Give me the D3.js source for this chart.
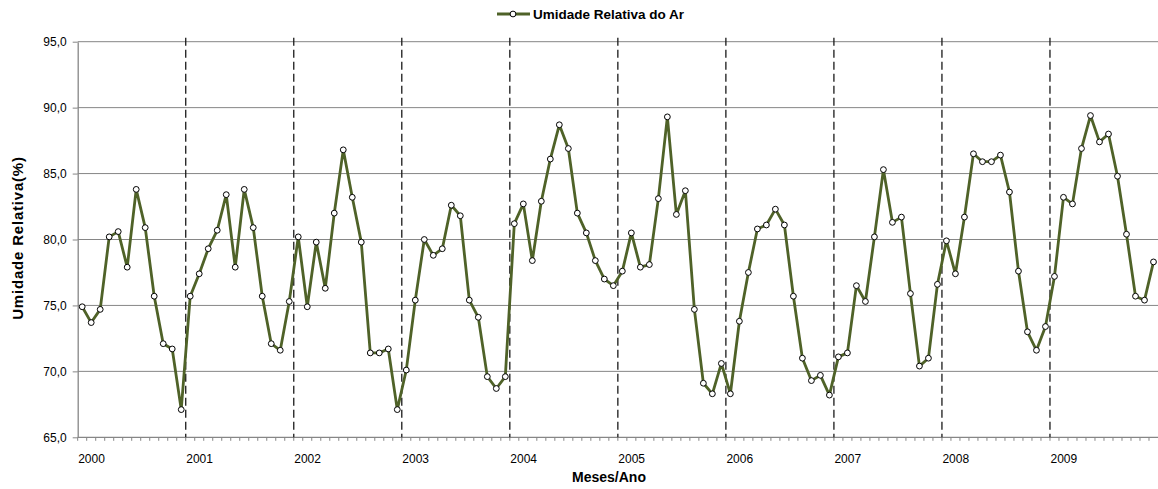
<!DOCTYPE html>
<html>
<head>
<meta charset="utf-8">
<script src="https://cdn.jsdelivr.net/npm/d3@7/dist/d3.min.js"></script>
<style>
  html, body { margin: 0; padding: 0; background: #fff; }
  svg { display: block; }
  text { font-family: "Liberation Sans", Arial, sans-serif; fill: #000; }
</style>
</head>
<body>
<svg id="chart" width="1158" height="489"></svg>
<script>
const years = ["2000","2001","2002","2003","2004","2005","2006","2007","2008","2009"];
const y2000 = [74.9, 73.7, 74.7, 80.2, 80.6, 77.9, 83.8, 80.9, 75.7, 72.1, 71.7, 67.1];
const y2001 = [75.7, 77.4, 79.3, 80.7, 83.4, 77.9, 83.8, 80.9, 75.7, 72.1, 71.6, 75.3];
const y2002 = [80.2, 74.9, 79.8, 76.3, 82.0, 86.8, 83.2, 79.8, 71.4, 71.4, 71.7, 67.1];
const y2003 = [70.1, 75.4, 80.0, 78.8, 79.3, 82.6, 81.8, 75.4, 74.1, 69.6, 68.7, 69.6];
const y2004 = [81.2, 82.7, 78.4, 82.9, 86.1, 88.7, 86.9, 82.0, 80.5, 78.4, 77.0, 76.5];
const y2005 = [77.6, 80.5, 77.9, 78.1, 83.1, 89.3, 81.9, 83.7, 74.7, 69.1, 68.3, 70.6];
const y2006 = [68.3, 73.8, 77.5, 80.8, 81.1, 82.3, 81.1, 75.7, 71.0, 69.3, 69.7, 68.2];
const y2007 = [71.1, 71.4, 76.5, 75.3, 80.2, 85.3, 81.3, 81.7, 75.9, 70.4, 71.0, 76.6];
const y2008 = [79.9, 77.4, 81.7, 86.5, 85.9, 85.9, 86.4, 83.6, 77.6, 73.0, 71.6, 73.4];
const y2009 = [77.2, 83.2, 82.7, 86.9, 89.4, 87.4, 88.0, 84.8, 80.4, 75.7, 75.4, 78.3];
const yTicks = [65, 70, 75, 80, 85, 90, 95];
const seriesName = "Umidade Relativa do Ar";
const yTitle = "Umidade Relativa(%)";
const xTitle = "Meses/Ano";

const values = [].concat(y2000, y2001, y2002, y2003, y2004, y2005, y2006, y2007, y2008, y2009);
const data = values.map((v, i) => ({ i, v }));

const svg = d3.select("#chart");
const pLeft = 77.7, pRight = 1158, pTop = 41.7, pBottom = 437.3;
const lineColor = "#4F6228";
const gridColor = "#868686";

const x = d3.scaleBand().domain(d3.range(values.length)).range([pLeft, pRight]).padding(0);
const y = d3.scaleLinear().domain([65, 95]).range([pBottom, pTop]);
const cx = i => x(i) + x.bandwidth() / 2;

// gridlines
svg.append("g").selectAll("line").data(yTicks.filter(t => t !== 65)).join("line")
  .attr("x1", pLeft).attr("x2", pRight)
  .attr("y1", d => y(d)).attr("y2", d => y(d))
  .attr("stroke", gridColor).attr("stroke-width", 1);

// y axis
const yAxis = svg.append("g").attr("transform", `translate(${pLeft},0)`)
  .call(d3.axisLeft(y).tickValues(yTicks).tickSize(5).tickSizeOuter(0)
    .tickFormat(d => d.toFixed(1).replace(".", ",")));
yAxis.select(".domain").attr("stroke", gridColor).attr("stroke-width", 1.3);
yAxis.selectAll(".tick line").attr("stroke", gridColor);
yAxis.selectAll(".tick text").attr("font-size", "12px").attr("x", -11)
  .attr("font-family", "Liberation Sans, Arial, sans-serif").attr("fill", "#000");

// x axis line + minor ticks
const xAxisG = svg.append("g").attr("transform", `translate(0,${pBottom})`);
xAxisG.append("line").attr("x1", pLeft).attr("x2", pRight).attr("y1", 0).attr("y2", 0)
  .attr("stroke", gridColor).attr("stroke-width", 1.3);
xAxisG.selectAll("line.minor").data(d3.range(values.length)).join("line")
  .attr("class", "minor")
  .attr("x1", d => x(d)).attr("x2", d => x(d))
  .attr("y1", 0).attr("y2", 3.5)
  .attr("stroke", gridColor).attr("stroke-width", 1);

// year labels
svg.append("g").selectAll("text").data(years).join("text")
  .attr("x", (d, k) => x(k * 12) + 0.5)
  .attr("y", 462.5)
  .attr("font-size", "12px")
  .text(d => d);

// dashed year separators
svg.append("g").selectAll("line").data(years.slice(1)).join("line")
  .attr("x1", (d, k) => x((k + 1) * 12)).attr("x2", (d, k) => x((k + 1) * 12))
  .attr("y1", pTop - 4).attr("y2", pBottom)
  .attr("stroke", "#1a1a1a").attr("stroke-width", 1.3)
  .attr("stroke-dasharray", "8,4");

// series line
const line = d3.line().x(d => cx(d.i)).y(d => y(d.v));
svg.append("path").datum(data)
  .attr("d", line).attr("fill", "none")
  .attr("stroke", lineColor).attr("stroke-width", 2.8)
  .attr("stroke-linejoin", "round");

svg.append("g").selectAll("circle").data(data).join("circle")
  .attr("cx", d => cx(d.i)).attr("cy", d => y(d.v)).attr("r", 2.9)
  .attr("fill", "#fff").attr("stroke", "#000").attr("stroke-width", 1);

// legend
const lg = svg.append("g");
lg.append("line").attr("x1", 497).attr("x2", 530).attr("y1", 14).attr("y2", 14)
  .attr("stroke", lineColor).attr("stroke-width", 2.8);
lg.append("circle").attr("cx", 513).attr("cy", 14).attr("r", 2.9)
  .attr("fill", "#fff").attr("stroke", "#000").attr("stroke-width", 1);
lg.append("text").attr("x", 533).attr("y", 19)
  .attr("font-size", "13.5px").attr("font-weight", "bold").text(seriesName);

// axis titles
svg.append("text").attr("transform", "translate(23,238) rotate(-90)")
  .attr("text-anchor", "middle").attr("font-size", "15px").attr("font-weight", "bold")
  .attr("letter-spacing", "0.8px").text(yTitle);
svg.append("text").attr("x", 609).attr("y", 482)
  .attr("text-anchor", "middle").attr("font-size", "14px").attr("font-weight", "bold")
  .text(xTitle);
</script>
</body>
</html>
